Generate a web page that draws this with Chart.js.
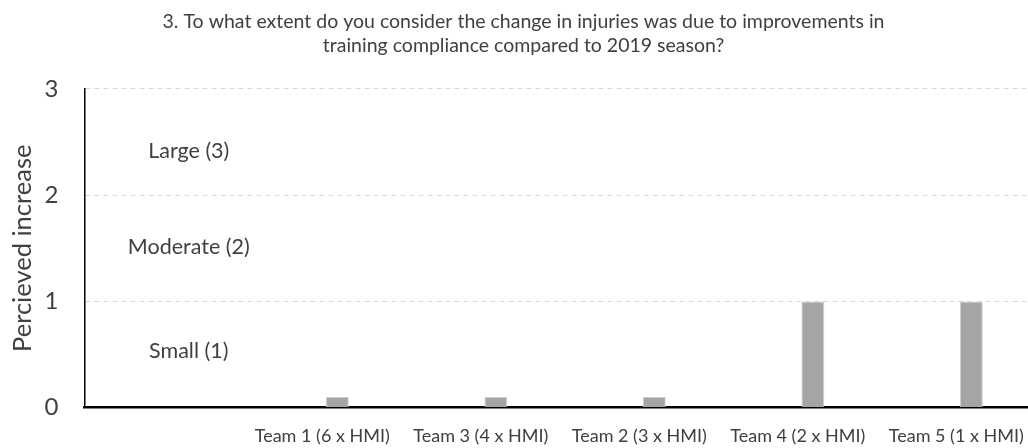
<!DOCTYPE html>
<html>
<head>
<meta charset="utf-8">
<script src="https://cdn.jsdelivr.net/npm/chart.js@4"></script>
<style>
  html, body { margin: 0; padding: 0; background: #fff; overflow: hidden; }
  #wrap { width: 1042px; height: 448px; }
</style>
</head>
<body>
<div id="wrap"><canvas id="chart"></canvas></div>
<script>
// Data
const categories = ['', 'Team 1 (6 x HMI)', 'Team 3 (4 x HMI)', 'Team 2 (3 x HMI)', 'Team 4 (2 x HMI)', 'Team 5 (1 x HMI)'];
const emptySeries = [null, null, null, null, null, null];
const perceived = [null, 0.1, 0.1, 0.1, 1, 1];
const levelLabels = ['Small (1)', 'Moderate (2)', 'Large (3)'];
const levelValues = [0.53, 1.51, 2.42];
const yTicks = [0, 1, 2, 3];

const FONT = 'Lato, "Open Sans", sans-serif';
const TEXT = '#404040';

// Draws the scale text (Small/Moderate/Large) in the first, empty category
const levelText = {
  id: 'levelText',
  afterDatasetsDraw(chart) {
    const { ctx, scales: { x, y } } = chart;
    ctx.save();
    ctx.font = '21.5px ' + FONT;
    ctx.fillStyle = TEXT;
    ctx.textAlign = 'center';
    ctx.textBaseline = 'middle';
    const cx = x.getPixelForValue(0) + 25;
    levelLabels.forEach((t, i) => ctx.fillText(t, cx, y.getPixelForValue(levelValues[i])));
    ctx.restore();
  }
};

new Chart(document.getElementById('chart'), {
  type: 'bar',
  data: {
    labels: categories,
    datasets: [
      { label: 'blank', data: emptySeries, backgroundColor: 'rgba(0,0,0,0)' },
      {
        label: 'Perceived increase',
        data: perceived,
        backgroundColor: '#a5a5a5',
        borderColor: '#d0d0d0',
        borderWidth: { left: 1, right: 1, top: 1, bottom: 0 }
      }
    ]
  },
  options: {
    responsive: true,
    maintainAspectRatio: false,
    animation: false,
    categoryPercentage: 0.38,
    barPercentage: 0.76,
    // negative bottom space lets the axis texts sit where the reference has them
    layout: { padding: { left: 7, right: 2, top: 0, bottom: -18 } },
    plugins: {
      legend: { display: false },
      tooltip: { enabled: false },
      title: {
        display: true,
        text: ['3. To what extent do you consider the change in injuries was due to improvements in',
               'training compliance compared to 2019 season?'],
        color: TEXT,
        font: { family: FONT, size: 19.5, weight: 'normal', lineHeight: 1.23 },
        padding: { top: 10, bottom: 31 }
      }
    },
    scales: {
      x: {
        grid: { display: false, drawTicks: false },
        border: { display: true, color: '#000', width: 2.5 },
        ticks: {
          color: TEXT,
          font: { family: FONT, size: 18 },
          padding: 18,
          maxRotation: 0,
          autoSkip: false
        }
      },
      y: {
        min: 0,
        max: 3,
        afterBuildTicks: axis => { axis.ticks = yTicks.map(v => ({ value: v })); },
        grid: { color: '#d9d9d9', drawTicks: false, lineWidth: 1 },
        border: { display: true, color: '#000', width: 1.5, dash: [5, 4] },
        ticks: {
          color: TEXT,
          font: { family: FONT, size: 24 },
          padding: 26
        },
        title: {
          display: true,
          text: 'Percieved increase',
          color: TEXT,
          font: { family: FONT, size: 25.5, lineHeight: 1.2 },
          padding: { top: 0, bottom: -19 }
        }
      }
    }
  },
  plugins: [levelText]
});
</script>
</body>
</html>
